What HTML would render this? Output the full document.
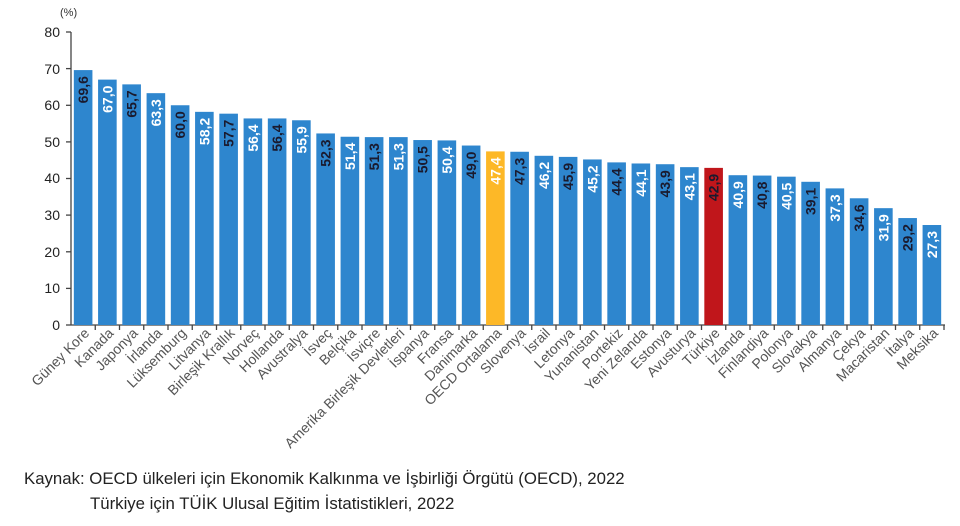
<!DOCTYPE html>
<html><head><meta charset="utf-8"><style>
html,body{margin:0;padding:0;background:#fff;width:960px;height:526px;overflow:hidden}
svg{display:block;font-family:"Liberation Sans",sans-serif}
</style></head><body>
<svg id="c" width="960" height="526" viewBox="0 0 960 526" xmlns="http://www.w3.org/2000/svg">
<text x="60" y="16" font-size="11" fill="#333">(%)</text>
<g font-size="14" fill="#222" text-anchor="end">
<text x="60" y="330">0</text><text x="60" y="293">10</text><text x="60" y="257">20</text><text x="60" y="220">30</text><text x="60" y="183">40</text><text x="60" y="147">50</text><text x="60" y="110">60</text><text x="60" y="74">70</text><text x="60" y="37">80</text>
</g>
<g stroke="#444" stroke-width="1.3">
<line x1="71" y1="32" x2="71" y2="325"/>
<line x1="66" y1="325" x2="71" y2="325"/><line x1="66" y1="288.4" x2="71" y2="288.4"/><line x1="66" y1="251.8" x2="71" y2="251.8"/><line x1="66" y1="215.1" x2="71" y2="215.1"/><line x1="66" y1="178.5" x2="71" y2="178.5"/><line x1="66" y1="141.9" x2="71" y2="141.9"/><line x1="66" y1="105.3" x2="71" y2="105.3"/><line x1="66" y1="68.6" x2="71" y2="68.6"/><line x1="66" y1="32" x2="71" y2="32"/>
<line x1="71" y1="325" x2="945" y2="325"/>
</g>
<g id="bars"></g>
<text x="24" y="484" font-size="16.8" fill="#222">Kaynak: OECD ülkeleri için Ekonomik Kalkınma ve İşbirliği Örgütü (OECD), 2022</text>
<text x="90" y="509" font-size="16.8" fill="#222">Türkiye için TÜİK Ulusal Eğitim İstatistikleri, 2022</text>
</svg>
<script>
var d=[["Güney Kore",69.6],["Kanada",67.0],["Japonya",65.7],["İrlanda",63.3],["Lüksemburg",60.0],["Litvanya",58.2],["Birleşik Krallık",57.7],["Norveç",56.4],["Hollanda",56.4],["Avustralya",55.9],["İsveç",52.3],["Belçika",51.4],["İsviçre",51.3],["Amerika Birleşik Devletleri",51.3],["İspanya",50.5],["Fransa",50.4],["Danimarka",49.0],["OECD Ortalama",47.4],["Slovenya",47.3],["İsrail",46.2],["Letonya",45.9],["Yunanistan",45.2],["Portekiz",44.4],["Yeni Zelanda",44.1],["Estonya",43.9],["Avusturya",43.1],["Türkiye",42.9],["İzlanda",40.9],["Finlandiya",40.8],["Polonya",40.5],["Slovakya",39.1],["Almanya",37.3],["Çekya",34.6],["Macaristan",31.9],["İtalya",29.2],["Meksika",27.3]];
var s="",w=24.25,x0=71;
d.forEach(function(e,i){
 var cx=x0+w*i+w/2, h=e[1]*3.6625, top=325-h;
 var col=e[0]=="OECD Ortalama"?"#FDB827":(e[0]=="Türkiye"?"#C0161B":"#2E86CE");
 var tc=i%2==0?"#1a1a2e":"#ffffff";
 s+='<rect x="'+(cx-9.3)+'" y="'+top+'" width="18.6" height="'+h+'" fill="'+col+'"/>';
 s+='<text transform="translate('+(cx+5)+','+(top+6)+') rotate(-90)" text-anchor="end" font-size="14" font-weight="bold" fill="'+tc+'">'+e[1].toFixed(1).replace(".",",")+'</text>';
 s+='<line x1="'+(x0+w*(i+1))+'" y1="325" x2="'+(x0+w*(i+1))+'" y2="330" stroke="#444" stroke-width="1.3"/>';
 s+='<text transform="translate('+(cx+7)+',334) rotate(-45)" text-anchor="end" font-size="14" fill="#555">'+e[0]+'</text>';
});
document.getElementById("bars").innerHTML=s;
</script>
</body></html>
